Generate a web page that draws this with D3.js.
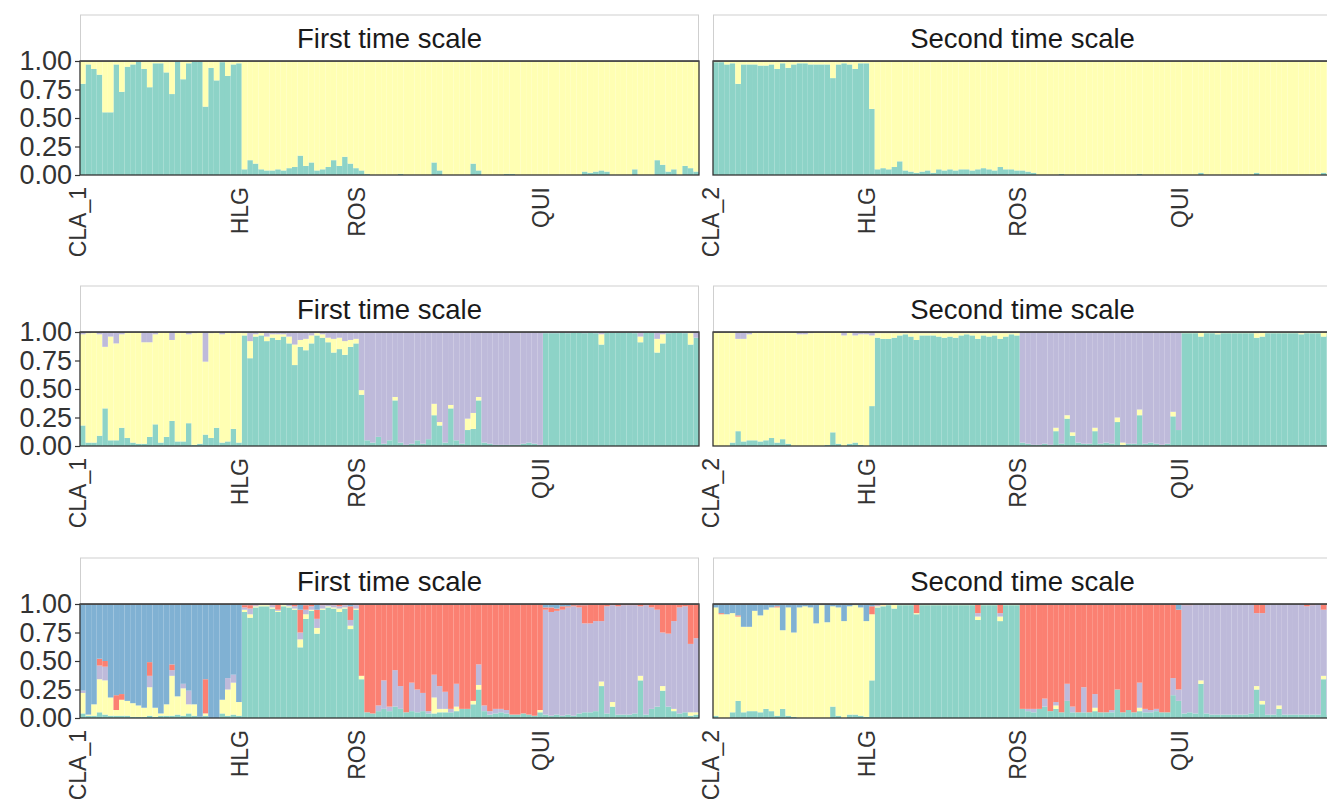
<!DOCTYPE html>
<html><head><meta charset="utf-8">
<script src="https://cdn.jsdelivr.net/npm/d3@7"></script>
<style>body{margin:0;background:#fff}svg{display:block}text{font-family:"Liberation Sans",Arial,sans-serif}</style>
</head><body>
<script>
// ---------- categories ----------
const clusterKeys = ["teal","yellow","purple","red","blue"];
const clusterColors = ["#8DD3C7","#FFFFB3","#BEBADA","#FB8072","#80B1D3"];
const stripLabels = ["First time scale","Second time scale"];
const yTickLabels = ["0.00","0.25","0.50","0.75","1.00"];
const t1Pops = ["CLA_1","HLG","ROS","QUI"];
const t1Sizes = [29,21,33,28];
const t2Pops = ["CLA_2","HLG","ROS","QUI"];
const t2Sizes = [28,27,29,27];

// main (remainder) cluster of each population, per K and time scale
const k2t1Main = ["teal","yellow","yellow","yellow"];
const k2t2Main = ["teal","yellow","yellow","yellow"];
const k3t1Main = ["yellow","teal","purple","teal"];
const k3t2Main = ["yellow","teal","purple","teal"];
const k5t1Main = ["blue","teal","red","purple"];
const k5t2Main = ["yellow","teal","red","purple"];

// ---------- ancestry proportions (minor clusters; main cluster = remainder) ----------
// K=2, first time scale  (CLA_1 | HLG | ROS | QUI)
const k2t1_teal = [
 0,0,0,0,0,0,0,0,0,0,0,0,0,0,0,0,0,0,0,0,0,0,0,0,0,0,0,0,0,
 .05,.13,.10,.05,.04,.04,.05,.04,.06,.07,.17,.08,.11,.04,.05,.07,.13,.08,.16,.10,.06,
 .04,.01,0,0,0,0,0,.01,0,0,0,0,0,.11,.04,0,0,0,0,0,.10,.04,0,0,0,0,.01,.01,0,0,0,0,0,
 0,0,0,0,0,0,0,.03,.02,.03,.04,.03,0,0,0,0,.05,0,0,0,.13,.09,.03,.05,0,.08,.06,.03];
const k2t1_yellow = [
 .20,.03,.07,.12,.45,.45,.03,.27,.05,.03,0,.07,.23,.02,.02,.10,.29,0,.16,.02,0,0,.40,.06,.17,.01,.13,.03,.02,
 0,0,0,0,0,0,0,0,0,0,0,0,0,0,0,0,0,0,0,0,0,
 0,0,0,0,0,0,0,0,0,0,0,0,0,0,0,0,0,0,0,0,0,0,0,0,0,0,0,0,0,0,0,0,0,
 0,0,0,0,0,0,0,0,0,0,0,0,0,0,0,0,0,0,0,0,0,0,0,0,0,0,0,0];
// K=2, second time scale (CLA_2 | HLG | ROS | QUI)
const k2t2_teal = [
 0,0,0,0,0,0,0,0,0,0,0,0,0,0,0,0,0,0,0,0,0,0,0,0,0,0,0,0,
 .58,.05,.06,.05,.07,.12,.04,.03,.02,.03,.04,.02,.05,.04,.05,.04,.05,.05,.04,.05,.06,.05,.04,.07,.05,.05,.04,
 .04,.03,.02,0,0,0,0,.01,0,0,0,0,0,0,0,0,0,0,0,0,0,.01,0,0,0,0,0,0,0,
 0,0,0,.02,0,0,0,0,0,0,0,0,0,.02,0,0,0,0,0,0,0,0,0,0,0,.02,0];
const k2t2_yellow = [
 .01,.01,.03,.02,.20,.03,.03,.03,.04,.04,.03,.07,.02,.06,.03,.02,.02,.03,.03,.03,.03,.15,.03,.02,.03,.07,.02,.02,
 0,0,0,0,0,0,0,0,0,0,0,0,0,0,0,0,0,0,0,0,0,0,0,0,0,0,0,
 0,0,0,0,0,0,0,0,0,0,0,0,0,0,0,0,0,0,0,0,0,0,0,0,0,0,0,0,0,
 0,0,0,0,0,0,0,0,0,0,0,0,0,0,0,0,0,0,0,0,0,0,0,0,0,0,0];
// K=3, first time scale
const k3t1_teal = [
 .18,.03,.03,.09,.33,.05,.05,.16,.07,.03,.02,.02,.08,.19,.03,.08,.22,.04,.04,.20,.01,.02,.10,.07,.16,.03,.04,.15,.03,
 0,0,0,0,0,0,0,0,0,0,0,0,0,0,0,0,0,0,0,0,0,
 .45,.05,.03,.08,.02,.05,.40,.03,.01,.02,.05,.02,.06,.27,.18,.03,.33,.05,.02,.14,.15,.40,.03,.02,.01,.01,.01,.01,.01,.02,.03,.02,.01,
 0,0,0,0,0,0,0,0,0,0,0,0,0,0,0,0,0,0,0,0,0,0,0,0,0,0,0,0];
const k3t1_yellow = [
 0,0,0,0,0,0,0,0,0,0,0,0,0,0,0,0,0,0,0,0,0,0,0,0,0,0,0,0,0,
 .02,.15,.02,.02,.04,.03,.05,.02,.06,.18,.06,.10,.07,.02,.03,.04,.12,.10,.12,.06,.04,
 .04,0,0,0,0,0,.03,0,0,0,0,0,0,.10,.03,0,.03,0,0,.10,.14,.03,0,0,0,0,0,0,0,0,0,0,0,
 0,0,0,0,0,0,0,0,0,0,.09,0,0,0,0,0,0,.05,0,0,.12,.08,0,0,0,0,.10,0];
const k3t1_purple = [
 .02,.01,0,.02,.13,.04,.10,.02,0,0,0,.09,.09,.02,0,0,.07,0,0,.02,.01,0,.26,.01,0,.02,0,.01,0,
 .01,.08,.02,.01,.04,.02,.02,.02,.04,.11,.07,.06,.03,.01,.02,.05,.06,.05,.08,.07,.06,
 0,0,0,0,0,0,0,0,0,0,0,0,0,0,0,0,0,0,0,0,0,0,0,0,0,0,0,0,0,0,0,0,0,
 .01,.01,.01,0,.01,0,0,.01,0,.01,.02,0,0,0,0,0,.01,.04,0,0,.06,.02,.01,0,0,.01,.01,.05];
// K=3, second time scale
const k3t2_teal = [
 0,0,0,.03,.13,.04,.05,.05,.04,.05,.07,.03,.06,.02,0,0,0,0,0,0,.01,.12,.02,0,.02,.03,.01,0,
 0,0,0,0,0,0,0,0,0,0,0,0,0,0,0,0,0,0,0,0,0,0,0,0,0,0,0,
 .03,.02,.01,.01,.02,.01,.13,.02,.24,.09,.03,.02,.02,.13,.02,.03,.02,.21,.01,.02,.02,.27,.02,.03,.02,.01,.02,.26,.14,
 0,0,0,0,0,0,0,0,0,0,0,0,0,0,0,0,0,0,0,0,0,0,0,0,0,0,0];
const k3t2_yellow = [
 0,0,0,0,0,0,0,0,0,0,0,0,0,0,0,0,0,0,0,0,0,0,0,0,0,0,0,0,
 .62,.04,.05,.05,.04,.02,.01,.03,.06,.02,.02,.02,.03,.04,.03,.04,.02,.01,.02,.05,.02,.03,.02,.05,.03,.01,.02,
 0,0,0,0,0,0,.03,0,.03,.03,0,0,0,.03,0,0,0,.04,.02,0,0,.05,0,0,0,0,0,.04,0,
 .01,.01,.01,.04,.01,.01,.01,.01,.01,.01,.01,.01,.01,.04,.04,.01,.01,.01,.01,.01,.01,.01,.01,.01,.01,.04,.01];
const k3t2_purple = [
 0,0,0,0,.06,.06,.02,0,0,0,0,0,0,0,0,.02,.02,.01,0,0,0,0,0,.03,0,.03,.02,.02,
 .03,.01,.01,.01,.01,.01,.01,.01,.01,.01,.01,.01,.01,.01,.01,.01,.01,.01,.01,.01,.01,.01,.01,.01,.01,.01,.01,
 0,0,0,0,0,0,0,0,0,0,0,0,0,0,0,0,0,0,0,0,0,0,0,0,0,0,0,0,0,
 0,0,0,0,0,0,.01,0,0,0,0,0,0,.01,0,0,0,0,0,0,0,.01,0,0,0,0,0];
// K=5, first time scale
const k5t1_teal = [
 .04,.02,.02,.05,.03,.02,.02,.02,.02,.01,.01,.01,.02,.01,.02,.02,.02,.03,.02,.04,.02,.01,.02,0,0,.04,.02,.03,.02,
 0,0,0,0,0,0,0,0,0,0,0,0,0,0,0,0,0,0,0,0,0,
 .34,.05,.04,.06,.08,.06,.10,.08,.05,.06,.05,.06,.04,.04,.05,.05,.05,.06,.08,.08,.12,.25,.06,.03,.04,.05,.04,.03,.03,.04,.03,.02,.05,
 .03,.02,.03,.02,.03,.02,.04,.05,.05,.06,.28,.04,.10,.03,.03,.03,.04,.33,.03,.08,.10,.24,.10,.06,.04,.05,.02,.03];
const k5t1_yellow = [
 .18,.01,.10,.29,.30,.16,.05,.14,.13,.12,.10,.08,.25,.08,.02,.10,.35,.16,.24,.08,.10,0,.02,0,0,.12,.23,.28,.12,
 .02,.03,.01,.01,.01,.01,.01,.01,.01,.01,.07,.04,.01,.05,.01,.01,.01,.03,.01,.03,.01,
 .03,0,0,0,0,0,0,0,0,0,0,0,0,.14,.03,.03,0,.04,0,0,.03,.04,0,0,0,0,0,0,0,0,0,0,.02,
 0,0,0,0,0,0,0,0,0,0,.04,0,.04,0,0,0,0,.04,0,0,0,.04,0,.02,0,0,.03,.02];
const k5t1_purple = [
 .02,0,0,.12,.12,0,0,0,0,0,0,0,.10,0,0,0,.05,0,.04,.12,0,0,0,0,0,0,.10,.07,0,
 .02,.05,.01,.01,.01,.02,.01,.01,.02,.02,.06,.04,.03,.08,.03,.02,.02,.02,.02,.05,.03,
 0,0,0,.05,.25,.04,.32,.20,0,.25,.20,.16,.02,.20,.20,.15,.03,.20,0,0,0,.18,.05,.03,.04,.03,.03,0,0,0,0,0,0,
 0,0,0,0,0,0,0,0,0,0,0,0,0,0,0,0,0,0,0,0,0,0,0,0,0,0,0,0];
const k5t1_red = [
 0,0,0,.06,.05,0,.13,.05,0,0,0,0,.12,0,0,0,.05,0,0,0,0,0,.30,0,0,0,0,0,0,
 .02,.03,.01,0,0,.01,.05,0,0,.02,.20,.04,.02,.08,.01,0,.01,.02,.01,.12,.01,
 0,0,0,0,0,0,0,0,0,0,0,0,0,0,0,0,0,0,0,0,0,0,0,0,0,0,0,0,0,0,0,0,0,
 .02,.04,.02,.03,.01,.01,.02,.16,.17,.15,.15,.02,.01,.02,.01,.01,.01,.02,.01,.03,.05,.25,.26,.15,.03,.02,.35,.30];
const k5t1_blue = [
 0,0,0,0,0,0,0,0,0,0,0,0,0,0,0,0,0,0,0,0,0,0,0,0,0,0,0,0,0,
 .01,.01,0,0,0,0,0,0,0,0,.05,.01,0,.05,0,0,0,0,0,.02,0,
 0,0,0,0,0,0,0,0,0,0,0,0,0,0,0,0,0,0,0,0,0,0,0,0,0,0,0,0,0,0,0,0,0,
 .03,.03,.04,.02,.02,.01,.01,.01,0,0,0,0,0,0,0,0,0,0,0,0,0,0,0,0,0,0,0,0];
// K=5, second time scale
const k5t2_teal = [
 .02,0,0,.05,.15,.05,.06,.06,.05,.08,.06,.02,.08,.02,.01,0,0,0,0,0,0,.10,.02,0,.03,.03,.02,.01,
 0,0,0,0,0,0,0,0,0,0,0,0,0,0,0,0,0,0,0,0,0,0,0,0,0,0,0,
 .08,.06,.05,.08,.10,.06,.08,.05,.15,.05,.05,.05,.05,.06,.05,.05,.05,.25,.05,.07,.05,.06,.05,.05,.06,.05,.05,.20,.15,
 .04,.05,.04,.30,.04,.03,.03,.03,.03,.03,.03,.03,.04,.25,.12,.03,.03,.08,.03,.03,.03,.03,.03,.03,.03,.34,.03];
const k5t2_yellow = [
 0,0,0,0,0,0,0,0,0,0,0,0,0,0,0,0,0,0,0,0,0,0,0,0,0,0,0,0,
 .58,.01,.01,.01,.04,.01,.01,.01,.01,.01,.01,.01,.01,.01,.01,.01,.01,.01,.01,.03,.01,.01,.01,.04,.01,.01,.01,
 0,0,0,0,0,0,.03,0,0,0,0,0,0,.03,0,0,0,0,0,0,0,.03,0,0,0,0,0,0,0,
 0,0,0,.03,0,0,0,0,0,0,0,0,0,.03,.03,0,0,.03,0,0,0,0,0,0,0,.03,0];
const k5t2_purple = [
 0,0,0,0,0,0,0,0,0,0,0,0,0,0,0,0,0,0,0,0,0,0,0,0,0,0,0,0,
 0,.01,0,0,0,0,0,0,0,0,0,0,0,0,0,0,0,0,0,.03,0,0,0,.03,0,0,0,
 0,.02,.03,0,.07,0,.03,0,.15,.05,0,.22,0,.12,0,0,.02,0,0,0,0,.22,.03,.02,.02,0,0,.15,.10,
 0,0,0,0,0,0,0,0,0,0,0,0,0,0,0,0,0,0,0,0,0,0,0,0,0,0,0];
const k5t2_red = [
 0,.01,0,0,.01,0,0,0,0,0,0,.01,0,0,0,0,0,0,0,0,0,0,0,0,0,0,0,0,
 .07,.01,.01,0,0,0,0,0,.08,0,0,0,0,0,0,0,0,0,0,.08,0,0,0,.08,0,0,0,
 0,0,0,0,0,0,0,0,0,0,0,0,0,0,0,0,0,0,0,0,0,0,0,0,0,0,0,0,0,
 .01,.01,0,0,0,0,0,0,0,0,0,0,0,.08,.08,0,0,0,0,0,0,0,.02,.01,0,.05,.01];
const k5t2_blue = [
 .03,.08,.09,.08,.10,.20,.20,.06,.10,.05,.03,.02,.23,.03,.25,.03,.02,.03,.17,.01,.16,.02,.03,.15,.02,.01,.03,.15,
 .02,0,0,0,0,0,0,0,0,0,0,0,0,0,0,0,0,0,0,0,0,0,0,0,0,0,0,
 0,0,0,0,0,0,0,0,0,0,0,0,0,0,0,0,0,0,0,0,0,0,0,0,0,0,0,0,.05,
 0,0,0,0,0,0,0,0,0,0,0,0,0,0,0,0,0,0,0,0,0,0,0,0,0,0,0];

// ---------- panel table built from the arrays ----------
const panelDefs = [
  {row:0,col:0,K:2,pops:t1Pops,sizes:t1Sizes,main:k2t1Main,q:{teal:k2t1_teal,yellow:k2t1_yellow}},
  {row:0,col:1,K:2,pops:t2Pops,sizes:t2Sizes,main:k2t2Main,q:{teal:k2t2_teal,yellow:k2t2_yellow}},
  {row:1,col:0,K:3,pops:t1Pops,sizes:t1Sizes,main:k3t1Main,q:{teal:k3t1_teal,yellow:k3t1_yellow,purple:k3t1_purple}},
  {row:1,col:1,K:3,pops:t2Pops,sizes:t2Sizes,main:k3t2Main,q:{teal:k3t2_teal,yellow:k3t2_yellow,purple:k3t2_purple}},
  {row:2,col:0,K:5,pops:t1Pops,sizes:t1Sizes,main:k5t1Main,q:{teal:k5t1_teal,yellow:k5t1_yellow,purple:k5t1_purple,red:k5t1_red,blue:k5t1_blue}},
  {row:2,col:1,K:5,pops:t2Pops,sizes:t2Sizes,main:k5t2Main,q:{teal:k5t2_teal,yellow:k5t2_yellow,purple:k5t2_purple,red:k5t2_red,blue:k5t2_blue}}
];

// ---------- layout ----------
const W = 1327, H = 805;
const colLeft = [80, 713], panelW = 619;
const rowTop = [61, 332, 604], panelH = 114, stripH = 46;

const color = d3.scaleOrdinal().domain(clusterKeys).range(clusterColors);
const svg = d3.select("body").append("svg").attr("width", W).attr("height", H);

panelDefs.forEach(p => {
  const keys = clusterKeys.slice(0, p.K);
  const n = d3.sum(p.sizes);
  const popOf = [];
  p.sizes.forEach((s, j) => { for (let k = 0; k < s; k++) popOf.push(j); });
  const rows = d3.range(n).map(i => {
    const m = p.main[popOf[i]];
    const r = {id: i};
    let s = 0;
    keys.forEach(k => { if (k !== m) { r[k] = p.q[k] ? p.q[k][i] : 0; s += r[k]; } });
    r[m] = Math.max(0, 1 - s);
    return r;
  });
  const series = d3.stack().keys(keys).offset(d3.stackOffsetExpand)(rows);

  const x0 = colLeft[p.col], top = rowTop[p.row], bottom = top + panelH;
  const x = d3.scaleBand().domain(d3.range(n)).range([x0, x0 + panelW]).padding(0);
  const y = d3.scaleLinear().domain([0, 1]).range([bottom, top]);

  const g = svg.append("g");
  g.append("rect").attr("x", x0).attr("y", top).attr("width", panelW).attr("height", panelH).attr("fill", "#fff");
  g.selectAll("g.layer").data(series).join("g").attr("class", "layer")
    .attr("fill", d => color(d.key))
    .selectAll("rect").data(d => d).join("rect")
      .attr("x", d => x(d.data.id))
      .attr("width", x.bandwidth())
      .attr("y", d => y(d[1]))
      .attr("height", d => Math.max(0, y(d[0]) - y(d[1])));

  // panel border
  g.append("rect").attr("x", x0).attr("y", top).attr("width", panelW).attr("height", panelH)
    .attr("fill", "none").attr("stroke", "#333").attr("stroke-width", 1.3);

  // strip
  g.append("rect").attr("x", x0 + 0.5).attr("y", top - stripH).attr("width", panelW - 1).attr("height", stripH)
    .attr("fill", "#fff").attr("stroke", "#cfcfcf").attr("stroke-width", 1);
  g.append("line").attr("x1", x0).attr("x2", x0 + panelW).attr("y1", top).attr("y2", top)
    .attr("stroke", "#333").attr("stroke-width", 1.3);
  g.append("text").attr("x", x0 + panelW / 2).attr("y", top - stripH / 2).attr("dy", "0.36em")
    .attr("text-anchor", "middle").attr("font-size", 27.5).attr("fill", "#1a1a1a")
    .text(stripLabels[p.col]);

  // y axis (left column only)
  if (p.col === 0) {
    const ay = d3.axisLeft(y).tickValues([0, .25, .5, .75, 1]).tickSize(5).tickPadding(3)
      .tickFormat((d, i) => yTickLabels[i]);
    const axg = g.append("g").attr("transform", `translate(${x0},0)`).call(ay);
    axg.select(".domain").remove();
    axg.selectAll("line").attr("stroke", "#333").attr("stroke-width", 1.2);
    axg.selectAll("text").attr("font-size", 27).attr("fill", "#333")
      .attr("font-family", '"Liberation Sans",Arial,sans-serif');
  }

  // x labels at first individual of each population
  let start = 0;
  p.pops.forEach((name, j) => {
    const cx = x(start) - 2;
    g.append("text")
      .attr("transform", `translate(${cx},${bottom + 12}) rotate(-90)`)
      .attr("dy", "0.36em").attr("text-anchor", "end")
      .attr("font-size", 23).attr("fill", "#333").text(name);
    start += p.sizes[j];
  });
});
</script>
</body></html>
